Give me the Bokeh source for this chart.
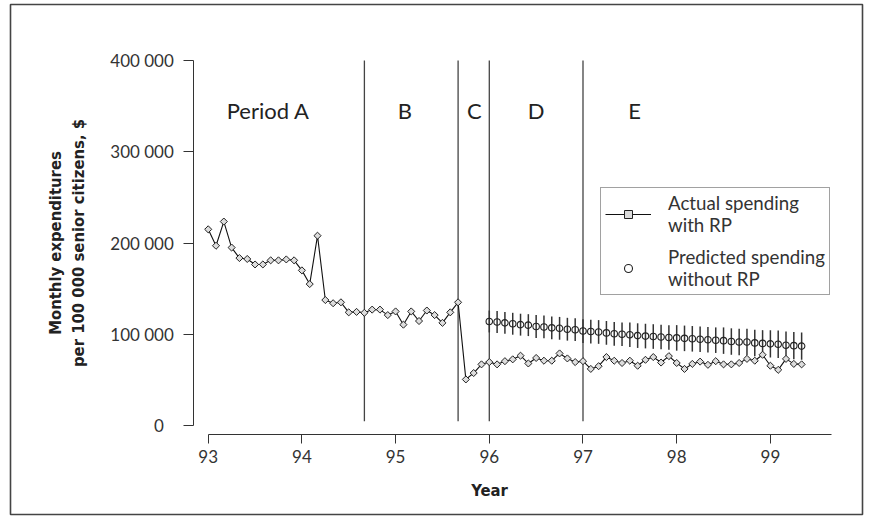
import numpy as np
from bokeh.plotting import figure
from bokeh.models import (LinearAxis, FixedTicker, Range1d, Legend, LegendItem,
                          ColumnDataSource)
from bokeh.core.properties import value
from bokeh.embed import file_html
from bokeh.resources import INLINE

# ---------------- data ----------------
start_year = 93  # first month of the series (monthly data)
actual = [215000, 197000, 223500, 195000, 183500, 182500, 176500, 176500, 181000, 181000,
          182000, 181000, 170000, 155000, 208000, 137500, 134000, 135000, 124000, 124500,
          123500, 127000, 127000, 121000, 125000, 110500, 125000, 114500, 126000, 121000,
          112500, 124000, 135000, 50500, 57500, 67000, 69500, 67000, 70500, 72500,
          76500, 68000, 74000, 71000, 71000, 79000, 73500, 69500, 70500, 62000,
          65000, 75000, 71000, 68500, 71000, 65500, 72000, 75000, 69000, 76000,
          68500, 62000, 67500, 70000, 66500, 70500, 67000, 67000, 68500, 73000,
          71000, 77500, 65500, 61000, 73000, 67500, 67000]
pred_first_month = 36  # predictions start Jan 96
predicted = [114000, 113500, 112500, 111500, 110500, 110000, 108500, 108000, 107000, 106500,
             105500, 105000, 103500, 103000, 102500, 101500, 100500, 100000, 99500, 98500,
             98000, 97500, 97000, 96500, 96000, 95500, 95000, 94500, 94000, 93500,
             93000, 92000, 91500, 91500, 90500, 90000, 89500, 89000, 88000, 87500, 87000]
pred_err = [12000, 12000, 12000, 12000, 12000, 12000, 12500, 12500, 12500, 12500,
            12500, 12500, 13000, 13000, 13000, 13000, 13000, 13000, 13500, 13500,
            13500, 13500, 13500, 13500, 14000, 14000, 14000, 14000, 14000, 14000,
            14500, 14500, 14500, 14500, 14500, 14500, 15000, 15000, 15000, 15000, 15000]
period_lines = [94.667, 95.667, 96.0, 97.0]
period_labels = ["Period A", "B", "C", "D", "E"]
period_label_x = [93.64, 95.1, 95.84, 96.5, 97.55]
period_label_y = 345000
x_ticks = [93, 94, 95, 96, 97, 98, 99]
y_ticks = [0, 100000, 200000, 300000, 400000]
y_tick_labels = ["0\u2007", "100 000", "200 000", "300 000", "400 000"]

# ---------------- derived ----------------
x_actual = [start_year + i / 12 for i in range(len(actual))]
x_pred = [start_year + (pred_first_month + i) / 12 for i in range(len(predicted))]
pred_lo = [v - e for v, e in zip(predicted, pred_err)]
pred_hi = [v + e for v, e in zip(predicted, pred_err)]
actual_src = ColumnDataSource(data=dict(x=x_actual, y=actual))

FONT = "Lato"
BOLD = "DejaVu Sans Condensed"
INK = "#222222"

p = figure(width=866, height=517, output_backend="svg", toolbar_location=None,
           x_range=Range1d(90.890, 99.983), y_range=Range1d(-97534, 461370),
           x_axis_type=None, y_axis_type=None, title=None,
           min_border_left=10, min_border_right=4, min_border_top=4, min_border_bottom=3,
           background_fill_color="white", border_fill_color="white")
p.outline_line_color = "#444444"
p.outline_line_width = 1.6

# y axis (detached, placed inside frame)
yaxis = LinearAxis(fixed_location=92.8463, bounds=(0, 400000),
                   ticker=FixedTicker(ticks=y_ticks),
                   major_label_overrides=dict(zip(y_ticks, y_tick_labels)),
                   axis_label="Monthly expenditures\nper 100 000 senior citizens, $",
                   axis_label_text_font=BOLD, axis_label_text_font_style="bold",
                   axis_label_text_font_size="16.5px", axis_label_text_color=INK,
                   axis_label_standoff=19,
                   major_label_text_font=FONT, major_label_text_font_size="17px",
                   major_label_text_color="#333333", major_label_standoff=10,
                   major_tick_in=0, major_tick_out=10, minor_tick_line_color=None,
                   axis_line_color="#333333", major_tick_line_color="#333333")
p.add_layout(yaxis, "left")

# x axis: line extends past last tick
xline = LinearAxis(fixed_location=-10192, bounds=(93, 99.65),
                   ticker=FixedTicker(ticks=[]), minor_tick_line_color=None,
                   major_tick_line_color=None, major_label_text_font_size="0px",
                   axis_line_color="#333333")
p.add_layout(xline, "below")
xaxis = LinearAxis(fixed_location=-10192, bounds=(93, 99),
                   ticker=FixedTicker(ticks=x_ticks), axis_line_color=None,
                   axis_label="Year", axis_label_text_font=BOLD,
                   axis_label_text_font_style="bold", axis_label_text_font_size="16.5px",
                   axis_label_text_color=INK, axis_label_standoff=15,
                   major_label_text_font=FONT, major_label_text_font_size="17px",
                   major_label_text_color="#333333", major_label_standoff=6,
                   major_tick_in=0, major_tick_out=9, minor_tick_line_color=None,
                   major_tick_line_color="#333333")
p.add_layout(xaxis, "below")

# period separators
p.segment(x0=period_lines, y0=4700, x1=period_lines, y1=400000,
          line_color="#444444", line_width=1.3)

# period labels
p.text(x=period_label_x, y=period_label_y, text=period_labels,
       text_font=value(FONT), text_font_size="22px", text_color=INK,
       text_align="center", text_baseline="middle")

# predicted with error bars
p.segment(x0=x_pred, y0=pred_lo, x1=x_pred, y1=pred_hi,
          line_color="#333333", line_width=1.5)
r_pred = p.scatter(x_pred, predicted, marker="circle", size=6.5,
                   fill_color=None, line_color="#222222", line_width=1.1)

# actual spending
r_line = p.line("x", "y", source=actual_src, line_color="#111111", line_width=1.1)
r_act = p.scatter("x", "y", source=actual_src, marker="square", angle=np.pi / 4, size=5,
                  fill_color="#dddddd", line_color="#222222", line_width=1)

legend = Legend(items=[LegendItem(label="Actual spending\nwith RP", renderers=[r_line, r_act]),
                       LegendItem(label="Predicted spending\nwithout RP", renderers=[r_pred])],
                location=(590, 219), orientation="vertical",
                label_text_font=FONT, label_text_font_size="18.7px",
                label_text_color="#333333", glyph_width=46, label_standoff=17,
                padding=4, spacing=10, margin=0,
                border_line_color="#444444", border_line_width=1.3,
                background_fill_color="white", background_fill_alpha=1)
p.add_layout(legend, "center")

open("out.html", "w").write(file_html(p, INLINE))
